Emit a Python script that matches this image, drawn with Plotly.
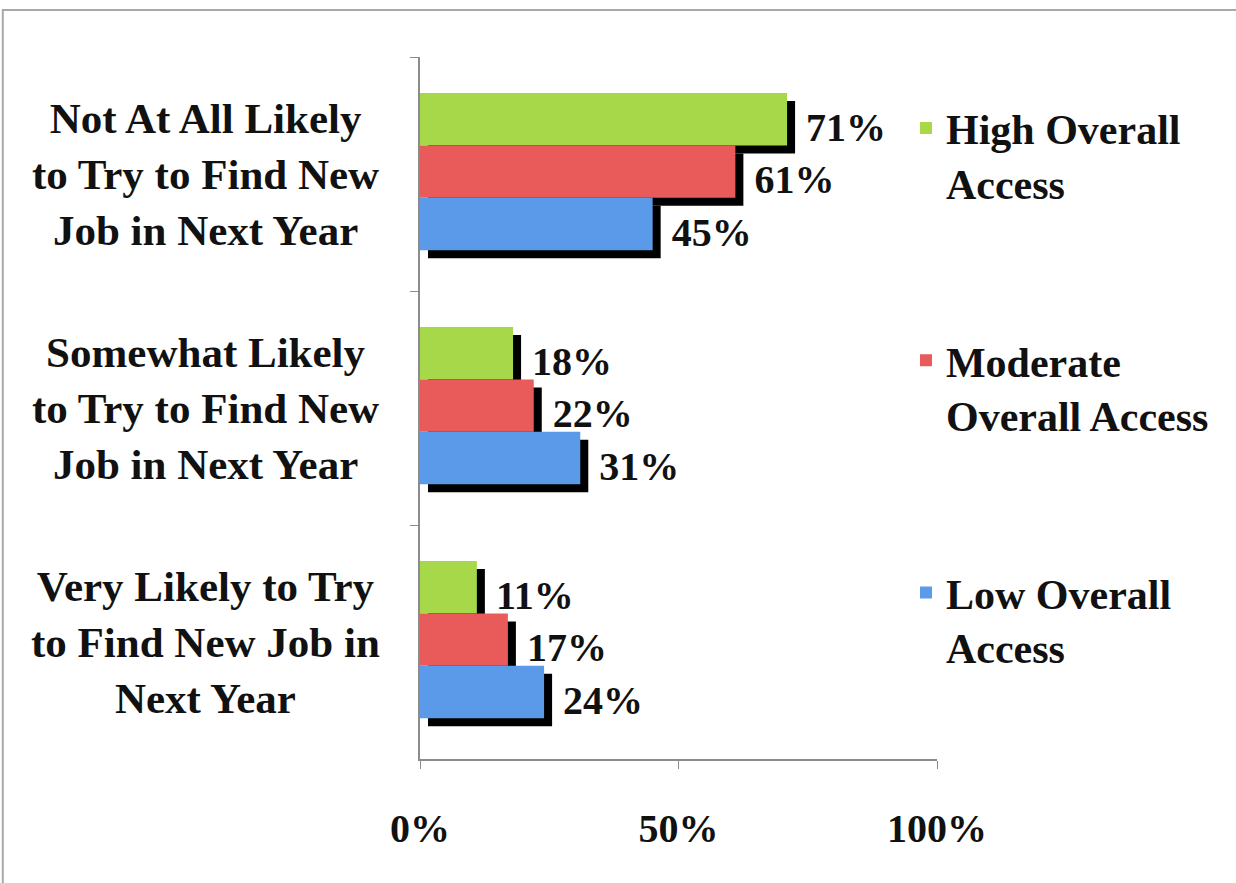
import plotly.graph_objects as go

categories = [
    "Not At All Likely to Try to Find New Job in Next Year",
    "Somewhat Likely to Try to Find New Job in Next Year",
    "Very Likely to Try to Find New Job in Next Year",
]
category_labels = [
    "Not At All Likely<br>to Try to Find New<br>Job in Next Year",
    "Somewhat Likely<br>to Try to Find New<br>Job in Next Year",
    "Very Likely to Try<br>to Find New Job in<br>Next Year",
]
series_names = ["High Overall<br>Access", "Moderate<br>Overall Access", "Low Overall<br>Access"]
high_values = [71, 18, 11]
moderate_values = [61, 22, 17]
low_values = [45, 31, 24]
x_tick_values = [0, 50, 100]
x_tick_labels = ["0%", "50%", "100%"]

colors = ["#a6d84a", "#e95b5b", "#5b9ae8"]
FONT = "Liberation Serif"
W = 0.224          # bar thickness in category units
SHIFT = -0.01      # group centre shift
SH_X = 1.55        # shadow offset in x data units
SH_Y = 0.034       # shadow offset in category units

fig = go.Figure()
all_values = [high_values, moderate_values, low_values]
offsets = [-1.5 * W, -0.5 * W, 0.5 * W]
for i, (name, vals) in enumerate(zip(series_names, all_values)):
    # shadow
    fig.add_trace(go.Bar(
        y=categories, x=vals, base=SH_X, orientation="h",
        offset=offsets[i] + SHIFT + SH_Y, width=W,
        marker=dict(color="#000000", line=dict(width=0)),
        text=[f"\u2009{v}%" for v in vals], textposition="outside",
        textfont=dict(family=FONT, size=40, color="#111111", weight="bold"),
        cliponaxis=False, showlegend=False, hoverinfo="skip",
    ))
    # colored bar
    fig.add_trace(go.Bar(
        y=categories, x=vals, orientation="h", name=name,
        offset=offsets[i] + SHIFT, width=W,
        marker=dict(color=colors[i], line=dict(width=0)),
        legendgroup=f"g{i}", showlegend=True,
    ))

for cat, lab in zip(categories, category_labels):
    fig.add_annotation(
        x=-0.414, xref="paper", y=cat, yref="y", text=lab,
        showarrow=False, xanchor="center", yanchor="middle", align="center",
        font=dict(family=FONT, size=43, color="#111111", weight="bold"),
    )

# outer frame
fig.add_shape(type="rect", xref="paper", yref="paper",
              x0=-0.807, x1=1.6, y0=-0.2, y1=1.067,
              line=dict(color="#a8a8a8", width=2), layer="below")

fig.update_layout(
    width=1236, height=883,
    margin=dict(l=420, r=299, t=57, b=124),
    barmode="overlay",
    plot_bgcolor="white", paper_bgcolor="white",
    font=dict(family=FONT, color="#111111"),
    legend=dict(
        x=0.94, y=0.947, xanchor="left", yanchor="top",
        traceorder="grouped", tracegroupgap=120, valign="top",
        font=dict(family=FONT, size=42, color="#111111", weight="bold"),
        bgcolor="rgba(0,0,0,0)", itemwidth=30,
    ),
    xaxis=dict(
        range=[0, 100], tickvals=x_tick_values, ticktext=x_tick_labels,
        showline=True, linecolor="#8c8c8c", linewidth=2,
        ticks="outside", ticklen=8, tickcolor="#8c8c8c",
        showgrid=False, zeroline=False, ticklabelstandoff=25,
        tickfont=dict(family=FONT, size=40, color="#111111", weight="bold"),
    ),
    yaxis=dict(
        type="category", categoryorder="array", categoryarray=categories,
        range=[2.5, -0.5], showticklabels=False,
        showline=True, linecolor="#8c8c8c", linewidth=2,
        ticks="outside", ticklen=8, tickcolor="#8c8c8c", tickson="boundaries",
        showgrid=False, zeroline=False,
    ),
)

fig.write_html("out.html")
